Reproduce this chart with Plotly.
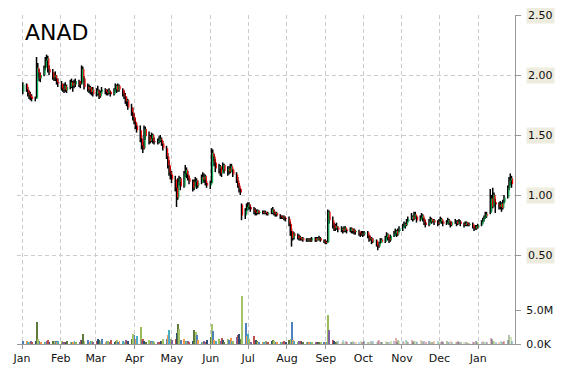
import pandas as pd
import plotly.graph_objects as go

# ---------------- data ----------------
ticker = "ANAD"
month_labels_fmt = "%b"
price_ticks = [0.5, 1.0, 1.5, 2.0, 2.5]
price_tick_text = ["0.50", "1.00", "1.50", "2.00", "2.50"]
volume_ticks = [0, 5e6]
volume_tick_text = ["0.0K", "5.0M"]

opens = [
    # Jan 2015
    1.86, 1.92, 1.88, 1.85, 1.83, 1.82, 1.80, 1.81, 2.06, 2.02, 1.97, 2.00, 2.06, 2.12, 2.14, 2.05, 2.02, 1.98, 2.00, 1.97, 1.94,
    # Feb
    1.93, 1.89, 1.88, 1.91, 1.87, 1.90, 1.94, 1.91, 1.93, 1.92, 1.95, 1.92, 1.93, 2.05, 1.97, 1.90, 1.88, 1.90, 1.86, 1.88,
    # Mar
    1.84, 1.87, 1.85, 1.82, 1.86, 1.88, 1.86, 1.85, 1.87, 1.86, 1.84, 1.88, 1.91, 1.87, 1.91, 1.88, 1.84, 1.82, 1.78, 1.79, 1.73, 1.69,
    # Apr
    1.65, 1.61, 1.58, 1.54, 1.47, 1.41, 1.39, 1.55, 1.49, 1.45, 1.47, 1.50, 1.45, 1.44, 1.45, 1.47, 1.46, 1.43, 1.39, 1.32, 1.25, 1.19,
    # May
    1.17, 1.13, 1.06, 0.98, 1.11, 1.14, 1.07, 1.18, 1.21, 1.17, 1.14, 1.11, 1.06, 1.11, 1.12, 1.08, 1.10, 1.15, 1.13, 1.16, 1.10,
    # Jun
    1.08, 1.10, 1.35, 1.32, 1.27, 1.22, 1.24, 1.18, 1.21, 1.25, 1.20, 1.22, 1.19, 1.24, 1.21, 1.17, 1.12, 1.08, 1.05, 0.92, 0.83, 0.87,
    # Jul
    0.90, 0.92, 0.90, 0.88, 0.86, 0.85, 0.87, 0.85, 0.86, 0.85, 0.86, 0.85, 0.84, 0.85, 0.88, 0.86, 0.84, 0.85, 0.83, 0.82, 0.81, 0.82, 0.81,
    # Aug
    0.80, 0.76, 0.70, 0.64, 0.68, 0.66, 0.64, 0.65, 0.63, 0.64, 0.62, 0.63, 0.62, 0.63, 0.62, 0.64, 0.62, 0.64, 0.63, 0.64, 0.62,
    # Sep
    0.61, 0.60, 0.61, 0.86, 0.79, 0.75, 0.72, 0.74, 0.73, 0.71, 0.72, 0.70, 0.73, 0.71, 0.70, 0.72, 0.70, 0.71, 0.69, 0.70, 0.68, 0.67,
    # Oct
    0.68, 0.67, 0.69, 0.66, 0.63, 0.64, 0.61, 0.62, 0.58, 0.57, 0.60, 0.63, 0.61, 0.65, 0.67, 0.64, 0.62, 0.66, 0.68, 0.70, 0.67, 0.70,
    # Nov
    0.72, 0.74, 0.76, 0.75, 0.78, 0.80, 0.82, 0.80, 0.84, 0.82, 0.79, 0.81, 0.83, 0.80, 0.77, 0.75, 0.78, 0.80, 0.78, 0.79, 0.77,
    # Dec
    0.76, 0.78, 0.80, 0.78, 0.76, 0.77, 0.79, 0.77, 0.75, 0.77, 0.78, 0.76, 0.77, 0.78, 0.76, 0.75, 0.77, 0.76, 0.75, 0.76, 0.73, 0.72, 0.74,
    # Jan 2016
    0.73, 0.75, 0.78, 0.80, 0.82, 0.84, 0.85, 0.97, 0.90, 1.00, 0.94, 0.92, 0.90, 0.93, 0.89, 0.94, 0.98, 1.06, 1.12, 1.14,
]
highs = [
    1.94, 1.93, 1.90, 1.87, 1.86, 1.84, 1.82, 2.15, 2.10, 2.05, 2.02, 2.08, 2.15, 2.17, 2.16, 2.08, 2.05, 2.02, 2.03, 2.00, 1.97,
    1.95, 1.92, 1.93, 1.94, 1.92, 1.96, 1.97, 1.95, 1.96, 1.97, 1.96, 1.95, 2.08, 2.07, 1.99, 1.93, 1.92, 1.91, 1.90, 1.90,
    1.89, 1.91, 1.88, 1.87, 1.90, 1.89, 1.88, 1.88, 1.89, 1.87, 1.89, 1.93, 1.92, 1.93, 1.92, 1.89, 1.87, 1.85, 1.82, 1.80, 1.76, 1.73,
    1.68, 1.64, 1.60, 1.58, 1.50, 1.44, 1.58, 1.57, 1.53, 1.50, 1.52, 1.51, 1.48, 1.47, 1.49, 1.50, 1.48, 1.45, 1.41, 1.35, 1.29, 1.24,
    1.20, 1.16, 1.09, 1.14, 1.16, 1.15, 1.20, 1.25, 1.23, 1.20, 1.16, 1.13, 1.13, 1.15, 1.14, 1.12, 1.17, 1.19, 1.18, 1.17, 1.12,
    1.12, 1.39, 1.38, 1.34, 1.30, 1.26, 1.25, 1.23, 1.27, 1.26, 1.24, 1.24, 1.26, 1.26, 1.22, 1.19, 1.15, 1.10, 1.06, 0.93, 0.89, 0.93,
    0.94, 0.94, 0.92, 0.90, 0.89, 0.88, 0.88, 0.87, 0.87, 0.87, 0.87, 0.86, 0.86, 0.89, 0.90, 0.88, 0.86, 0.86, 0.84, 0.83, 0.83, 0.83, 0.82,
    0.82, 0.78, 0.72, 0.70, 0.69, 0.68, 0.67, 0.66, 0.65, 0.65, 0.64, 0.64, 0.64, 0.64, 0.65, 0.65, 0.65, 0.65, 0.66, 0.65, 0.63,
    0.63, 0.62, 0.88, 0.87, 0.82, 0.77, 0.76, 0.77, 0.74, 0.74, 0.73, 0.74, 0.74, 0.72, 0.73, 0.73, 0.72, 0.72, 0.71, 0.71, 0.69, 0.70,
    0.70, 0.70, 0.70, 0.67, 0.66, 0.65, 0.64, 0.63, 0.59, 0.61, 0.64, 0.64, 0.66, 0.69, 0.68, 0.65, 0.67, 0.70, 0.72, 0.71, 0.72, 0.74,
    0.76, 0.78, 0.77, 0.80, 0.82, 0.85, 0.83, 0.86, 0.86, 0.83, 0.83, 0.85, 0.84, 0.81, 0.79, 0.80, 0.82, 0.81, 0.80, 0.80, 0.79,
    0.80, 0.82, 0.81, 0.79, 0.79, 0.81, 0.80, 0.78, 0.78, 0.80, 0.79, 0.79, 0.80, 0.79, 0.77, 0.78, 0.78, 0.77, 0.77, 0.77, 0.74, 0.75, 0.75,
    0.76, 0.79, 0.81, 0.83, 0.86, 0.86, 1.05, 1.00, 1.06, 1.02, 0.97, 0.94, 0.95, 0.94, 0.96, 1.00, 1.08, 1.15, 1.18, 1.16,
]
lows = [
    1.84, 1.86, 1.82, 1.80, 1.79, 1.78, 1.78, 1.80, 1.98, 1.95, 1.94, 1.99, 2.04, 2.08, 2.02, 2.00, 1.96, 1.95, 1.95, 1.92, 1.90,
    1.87, 1.86, 1.85, 1.86, 1.85, 1.88, 1.89, 1.86, 1.89, 1.90, 1.90, 1.89, 1.92, 1.94, 1.88, 1.86, 1.85, 1.84, 1.83, 1.82,
    1.82, 1.83, 1.80, 1.81, 1.84, 1.84, 1.83, 1.83, 1.84, 1.82, 1.83, 1.86, 1.85, 1.86, 1.86, 1.82, 1.80, 1.76, 1.74, 1.71, 1.66, 1.62,
    1.59, 1.55, 1.52, 1.44, 1.38, 1.35, 1.38, 1.46, 1.42, 1.43, 1.44, 1.43, 1.42, 1.42, 1.43, 1.44, 1.41, 1.37, 1.30, 1.22, 1.16, 1.13,
    1.10, 1.03, 0.90, 0.96, 1.08, 1.04, 1.06, 1.15, 1.14, 1.12, 1.09, 1.03, 1.04, 1.07, 1.05, 1.06, 1.09, 1.11, 1.10, 1.08, 1.06,
    1.05, 1.09, 1.28, 1.24, 1.19, 1.18, 1.16, 1.15, 1.19, 1.18, 1.16, 1.17, 1.18, 1.19, 1.15, 1.10, 1.06, 1.02, 1.00, 0.79, 0.80, 0.84,
    0.87, 0.88, 0.86, 0.84, 0.83, 0.83, 0.84, 0.84, 0.84, 0.84, 0.84, 0.83, 0.83, 0.84, 0.84, 0.83, 0.82, 0.82, 0.80, 0.80, 0.80, 0.79, 0.78,
    0.74, 0.66, 0.57, 0.62, 0.63, 0.63, 0.62, 0.62, 0.62, 0.61, 0.61, 0.61, 0.61, 0.61, 0.61, 0.61, 0.61, 0.62, 0.62, 0.61, 0.60,
    0.59, 0.59, 0.60, 0.76, 0.72, 0.70, 0.70, 0.71, 0.69, 0.69, 0.68, 0.69, 0.69, 0.68, 0.69, 0.68, 0.68, 0.67, 0.67, 0.66, 0.65, 0.66,
    0.65, 0.66, 0.64, 0.61, 0.62, 0.59, 0.60, 0.57, 0.54, 0.56, 0.59, 0.60, 0.60, 0.63, 0.62, 0.60, 0.61, 0.65, 0.66, 0.65, 0.66, 0.69,
    0.70, 0.73, 0.72, 0.74, 0.77, 0.79, 0.78, 0.79, 0.80, 0.77, 0.78, 0.80, 0.78, 0.75, 0.73, 0.74, 0.77, 0.76, 0.77, 0.75, 0.74,
    0.75, 0.77, 0.76, 0.74, 0.75, 0.76, 0.75, 0.73, 0.74, 0.76, 0.74, 0.75, 0.76, 0.74, 0.73, 0.74, 0.74, 0.74, 0.74, 0.72, 0.70, 0.71, 0.71,
    0.72, 0.74, 0.76, 0.78, 0.80, 0.81, 0.84, 0.86, 0.89, 0.90, 0.85, 0.88, 0.88, 0.86, 0.88, 0.93, 0.97, 1.04, 1.08, 1.06,
]
closes = [
    1.92, 1.88, 1.85, 1.83, 1.81, 1.80, 1.81, 2.06, 2.02, 1.97, 2.00, 2.06, 2.12, 2.14, 2.05, 2.02, 1.98, 2.00, 1.97, 1.94, 1.93,
    1.89, 1.88, 1.91, 1.87, 1.90, 1.94, 1.91, 1.93, 1.92, 1.95, 1.92, 1.93, 2.05, 1.97, 1.90, 1.88, 1.90, 1.86, 1.88, 1.84,
    1.87, 1.85, 1.82, 1.86, 1.88, 1.86, 1.85, 1.87, 1.86, 1.84, 1.88, 1.91, 1.87, 1.91, 1.88, 1.84, 1.82, 1.78, 1.79, 1.73, 1.69, 1.65,
    1.61, 1.58, 1.54, 1.47, 1.41, 1.39, 1.55, 1.49, 1.45, 1.47, 1.50, 1.45, 1.44, 1.45, 1.47, 1.46, 1.43, 1.39, 1.32, 1.25, 1.19, 1.17,
    1.13, 1.06, 0.98, 1.11, 1.14, 1.07, 1.18, 1.21, 1.17, 1.14, 1.11, 1.06, 1.11, 1.12, 1.08, 1.10, 1.15, 1.13, 1.16, 1.10, 1.08,
    1.10, 1.35, 1.32, 1.27, 1.22, 1.24, 1.18, 1.21, 1.25, 1.20, 1.22, 1.19, 1.24, 1.21, 1.17, 1.12, 1.08, 1.05, 1.02, 0.83, 0.87, 0.90,
    0.92, 0.90, 0.88, 0.86, 0.85, 0.87, 0.85, 0.86, 0.85, 0.86, 0.85, 0.84, 0.85, 0.88, 0.86, 0.84, 0.85, 0.83, 0.82, 0.81, 0.82, 0.81, 0.80,
    0.76, 0.70, 0.64, 0.68, 0.66, 0.64, 0.65, 0.63, 0.64, 0.62, 0.63, 0.62, 0.63, 0.62, 0.64, 0.62, 0.64, 0.63, 0.64, 0.62, 0.61,
    0.60, 0.61, 0.86, 0.79, 0.75, 0.72, 0.74, 0.73, 0.71, 0.72, 0.70, 0.73, 0.71, 0.70, 0.72, 0.70, 0.71, 0.69, 0.70, 0.68, 0.67, 0.68,
    0.67, 0.69, 0.66, 0.63, 0.64, 0.61, 0.62, 0.58, 0.57, 0.60, 0.63, 0.61, 0.65, 0.67, 0.64, 0.62, 0.66, 0.68, 0.70, 0.67, 0.70, 0.72,
    0.74, 0.76, 0.75, 0.78, 0.80, 0.82, 0.80, 0.84, 0.82, 0.79, 0.81, 0.83, 0.80, 0.77, 0.75, 0.78, 0.80, 0.78, 0.79, 0.77, 0.76,
    0.78, 0.80, 0.78, 0.76, 0.77, 0.79, 0.77, 0.75, 0.77, 0.78, 0.76, 0.77, 0.78, 0.76, 0.75, 0.77, 0.76, 0.75, 0.76, 0.73, 0.72, 0.74, 0.73,
    0.75, 0.78, 0.80, 0.82, 0.84, 0.83, 0.97, 0.90, 1.00, 0.94, 0.92, 0.90, 0.93, 0.89, 0.94, 0.98, 1.06, 1.12, 1.14, 1.09,
]
volumes_m = [
    0.4, 0.5, 0.3, 0.2, 0.5, 0.3, 0.4, 3.3, 0.7, 0.5, 0.3, 0.2, 0.3, 0.5, 0.6, 0.3, 0.4, 0.5, 0.4, 0.3, 0.4,
    0.4, 0.3, 0.2, 0.3, 0.4, 0.3, 0.2, 0.3, 0.4, 0.3, 0.2, 0.6, 0.6, 1.5, 0.4, 0.6, 0.3, 0.5, 0.4, 0.3,
    0.5, 0.7, 0.6, 0.4, 0.7, 0.2, 0.4, 0.5, 0.3, 0.6, 0.2, 0.5, 0.6, 0.3, 0.5, 0.4, 0.3, 0.6, 0.2, 0.5, 0.8, 1.5,
    1.3, 0.8, 1.2, 2.5, 0.6, 0.8, 0.5, 0.3, 0.6, 0.4, 0.3, 0.5, 0.2, 0.2, 0.3, 0.4, 0.5, 0.7, 0.8, 1.3, 2.0, 0.8,
    0.6, 0.8, 1.6, 3.0, 2.2, 0.6, 0.8, 0.5, 0.3, 0.4, 0.2, 0.5, 2.0, 1.7, 1.3, 0.6, 0.3, 0.2, 0.4, 0.3, 0.6,
    1.1, 3.0, 1.9, 0.6, 0.4, 0.7, 0.5, 0.9, 0.6, 0.3, 0.8, 0.6, 0.9, 0.4, 0.5, 1.1, 1.3, 1.5, 0.8, 7.0, 3.1, 1.2,
    1.5, 0.8, 0.3, 1.2, 0.6, 0.4, 0.3, 0.2, 0.3, 0.2, 0.4, 0.3, 0.2, 0.5, 0.6, 0.4, 0.3, 0.2, 0.3, 0.2, 0.3, 0.4, 0.3,
    0.6, 0.7, 3.3, 0.6, 0.4, 0.3, 0.5, 0.4, 0.3, 0.2, 0.3, 0.2, 0.2, 0.3, 0.2, 0.2, 0.3, 0.2, 0.2, 0.3, 0.2,
    0.3, 0.2, 4.3, 2.0, 0.6, 0.4, 0.3, 0.5, 0.4, 0.3, 0.6, 0.2, 0.4, 0.3, 0.2, 0.3, 0.4, 0.3, 0.2, 0.3, 0.4, 0.3,
    0.3, 0.4, 0.2, 0.3, 0.4, 0.3, 0.5, 0.3, 0.4, 0.6, 0.3, 0.2, 0.4, 0.3, 0.2, 0.3, 0.5, 0.4, 0.9, 0.3, 0.6, 0.4,
    0.5, 0.3, 0.6, 0.4, 0.2, 0.6, 0.3, 0.5, 0.4, 0.3, 0.6, 0.4, 0.3, 0.5, 0.2, 0.4, 0.3, 0.2, 0.3, 0.4, 0.5,
    0.3, 0.2, 0.4, 0.3, 0.5, 0.3, 0.2, 0.4, 0.3, 0.2, 0.3, 0.4, 0.2, 0.3, 0.2, 0.3, 0.2, 0.1, 0.1, 0.3, 0.2, 0.4, 0.3,
    0.2, 0.3, 0.4, 0.3, 0.2, 0.3, 0.9, 0.7, 0.5, 0.4, 0.3, 0.3, 0.4, 0.3, 0.2, 0.5, 0.6, 1.3, 1.0, 0.5,
]

# ---------------- build ----------------
all_days = pd.bdate_range("2015-01-02", "2016-01-28")
n = min(len(all_days), len(opens), len(highs), len(lows), len(closes), len(volumes_m))
dates = all_days[:n]
opens, highs, lows, closes, volumes_m = opens[:n], highs[:n], lows[:n], closes[:n], volumes_m[:n]

UP = "#00B050"
DOWN = "#FF0000"
vol_palette = ["#4F81BD", "#F79646", "#4BACC6", "#9BBB59", "#8064A2",
               "#C0504D", "#2C4D75", "#5F7A3A", "#A5C46A"]

def segments(xs, a, b):
    X, Y = [], []
    for x, y0, y1 in zip(xs, a, b):
        X += [x, x, None]
        Y += [y0, y1, None]
    return X, Y

shift_l = pd.Timedelta(hours=-9)
shift_r = pd.Timedelta(hours=12)

fig = go.Figure()

# volume bars (secondary axis)
vol_colors = [vol_palette[i % len(vol_palette)] for i in range(n)]
vol_opac = [1.0 if d < pd.Timestamp("2015-09-10") else 0.45 for d in dates]
fig.add_trace(go.Bar(
    x=dates, y=[v * 1e6 for v in volumes_m], yaxis="y2",
    marker=dict(color=vol_colors, opacity=vol_opac, line=dict(width=0)),
    width=0.8 * 86400000, showlegend=False, hoverinfo="skip",
))

# high-low wicks in black
hx, hy = segments([d + shift_l for d in dates], lows, highs)
fig.add_trace(go.Scatter(x=hx, y=hy, mode="lines", line=dict(color="#000000", width=1.5),
                         showlegend=False, hoverinfo="skip"))

# coloured open-close bodies
up_idx = [i for i in range(n) if closes[i] >= opens[i]]
dn_idx = [i for i in range(n) if closes[i] < opens[i]]
for idx, col in ((up_idx, UP), (dn_idx, DOWN)):
    bx, by = segments([dates[i] + shift_r for i in idx], [opens[i] for i in idx], [closes[i] for i in idx])
    fig.add_trace(go.Scatter(x=bx, y=by, mode="lines", line=dict(color=col, width=1.1),
                             showlegend=False, hoverinfo="skip"))

FONT = "DejaVu Sans"
axis_col = "#999999"
grid_col = "#CCCCCC"

# the page body adds an 8px offset, so margins are reduced by 8px on the left/top
fig.update_layout(
    width=570, height=370,
    margin=dict(l=9, r=63, t=7, b=34, autoexpand=False),
    paper_bgcolor="white", plot_bgcolor="white",
    font=dict(family=FONT, size=11, color="#111111"),
    showlegend=False,
    bargap=0,
    xaxis=dict(
        type="date",
        range=["2014-12-28", "2016-01-30 10:00"],
        tick0="2015-01-01", dtick="M1", tickformat=month_labels_fmt,
        showgrid=True, gridcolor=grid_col, griddash="4px,3px", gridwidth=1,
        ticks="outside", ticklen=4, tickcolor=axis_col,
        showline=True, linecolor=axis_col, linewidth=1,
        tickfont=dict(family=FONT, size=11, color="#111111"),
        zeroline=False, fixedrange=True, automargin=False,
    ),
    yaxis=dict(
        side="right", range=[-0.2417, 2.5],
        tickvals=price_ticks, showticklabels=False,
        showgrid=True, gridcolor=grid_col, griddash="4px,3px", gridwidth=1,
        ticks="outside", ticklen=5, tickcolor=axis_col,
        showline=True, linecolor=axis_col, linewidth=1,
        zeroline=False, fixedrange=True, automargin=False,
    ),
    yaxis2=dict(
        overlaying="y", side="right", range=[0, 48.4e6],
        tickvals=volume_ticks, ticktext=volume_tick_text,
        showgrid=False, zeroline=False,
        ticks="outside", ticklen=5, tickcolor=axis_col,
        ticklabelstandoff=3,
        tickfont=dict(family=FONT, size=11, color="#111111"),
        showline=False, fixedrange=True, automargin=False,
    ),
)

# price labels on a beige background
for v, t in zip(price_ticks, price_tick_text):
    fig.add_annotation(
        x=1, xref="paper", y=v, yref="y", text=t, showarrow=False,
        xanchor="left", yanchor="middle", xshift=11,
        bgcolor="#EEEBDF", borderpad=1,
        font=dict(family=FONT, size=11, color="#111111"),
    )

# ticker title
fig.add_annotation(
    x=0, xref="paper", y=1, yref="paper", text=ticker, showarrow=False,
    xanchor="left", yanchor="top", xshift=6, yshift=-3,
    font=dict(family=FONT, size=22, color="#000000"),
)

fig.write_html("out.html")
